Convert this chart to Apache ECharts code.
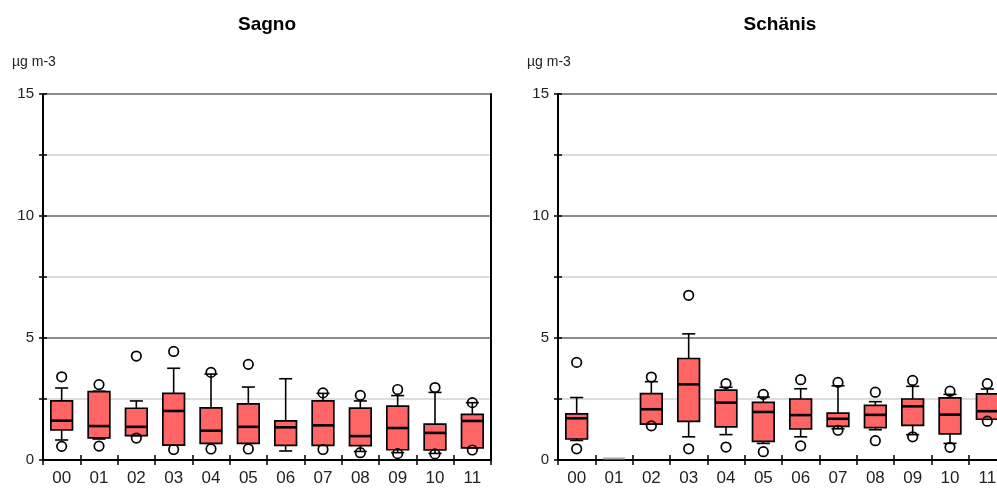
<!DOCTYPE html>
<html>
<head>
<meta charset="utf-8">
<script src="https://cdn.jsdelivr.net/npm/echarts@6/dist/echarts.min.js"></script>
<style>html,body{margin:0;padding:0;background:#fff;overflow:hidden}#c{width:1012px;height:490px}</style>
</head>
<body>
<div id="c"></div>
<script>
// ---- data ----
const categories = ['00','01','02','03','04','05','06','07','08','09','10','11'];
const yTicks = [0, 5, 10, 15];

// [lower whisker, Q1, median, Q3, upper whisker]
const sagnoBoxes = [
  [0.82, 1.23, 1.61, 2.42, 2.95],
  [0.86, 0.91, 1.39, 2.80, 2.82],
  [1.00, 1.00, 1.36, 2.12, 2.42],
  [0.61, 0.61, 2.01, 2.73, 3.76],
  [0.68, 0.68, 1.20, 2.14, 3.52],
  [0.68, 0.68, 1.36, 2.30, 2.99],
  [0.37, 0.60, 1.34, 1.60, 3.33],
  [0.60, 0.60, 1.42, 2.42, 2.73],
  [0.35, 0.59, 0.98, 2.13, 2.42],
  [0.30, 0.42, 1.31, 2.21, 2.64],
  [0.27, 0.41, 1.11, 1.47, 2.77],
  [0.50, 0.50, 1.60, 1.87, 2.35]
];
const sagnoOutHigh = [3.41, 3.09, 4.26, 4.45, 3.59, 3.92, null, 2.75, 2.65, 2.89, 2.97, 2.35];
const sagnoOutLow  = [0.56, 0.57, 0.90, 0.43, 0.45, 0.45, null, 0.43, 0.30, 0.26, 0.25, 0.41];

const schanisBoxes = [
  [0.80, 0.86, 1.71, 1.89, 2.56],
  [0.00, 0.00, 0.00, 0.00, 0.00],
  [1.47, 1.47, 2.08, 2.72, 3.21],
  [0.95, 1.58, 3.10, 4.16, 5.17],
  [1.04, 1.36, 2.35, 2.86, 2.98],
  [0.68, 0.76, 1.97, 2.36, 2.58],
  [0.95, 1.27, 1.84, 2.50, 2.92],
  [1.28, 1.38, 1.69, 1.92, 3.04],
  [1.24, 1.33, 1.85, 2.24, 2.39],
  [1.04, 1.42, 2.20, 2.50, 3.02],
  [0.68, 1.07, 1.86, 2.55, 2.69],
  [1.67, 1.67, 2.00, 2.71, 2.91]
];
const schanisOutHigh = [4.00, null, 3.40, 6.75, 3.13, 2.69, 3.29, 3.18, 2.78, 3.26, 2.82, 3.13];
const schanisOutLow  = [0.46, null, 1.40, 0.46, 0.53, 0.34, 0.58, 1.22, 0.79, 0.95, 0.52, 1.59];

const titles = ['Sagno', 'Schänis'];
const unitLabel = 'µg m-3';

// ---- rendering ----
const FONT = "'Liberation Sans', Arial, sans-serif";
const BOX_COLOR = '#ff6565';

function boxData(boxes) {
  return boxes.map((b, i) => [i, b[0], b[1], b[2], b[3], b[4]]);
}
function outlierData(hi, lo) {
  const out = [];
  hi.forEach((v, i) => { if (v != null) out.push([i, v]); });
  lo.forEach((v, i) => { if (v != null) out.push([i, v]); });
  return out;
}

function renderBox(params, api) {
  const idx = api.value(0);
  const lo = api.value(1), q1 = api.value(2), med = api.value(3), q3 = api.value(4), hi = api.value(5);
  const band = api.size([1, 0])[0];
  const bw = band * 0.58, cw = band * 0.35;
  const pLo = api.coord([idx, lo]), pQ1 = api.coord([idx, q1]), pMed = api.coord([idx, med]);
  const pQ3 = api.coord([idx, q3]), pHi = api.coord([idx, hi]);
  const x = pLo[0];
  if (hi === lo) {
    return { type: 'rect', shape: { x: x - bw / 2, y: pLo[1] - 2.5, width: bw, height: 2 },
             style: { fill: '#a8a8a8' } };
  }
  const ls = { stroke: '#000', lineWidth: 1.6 };
  const children = [];
  if (pHi[1] < pQ3[1]) {
    children.push({ type: 'line', shape: { x1: x, y1: pHi[1], x2: x, y2: pQ3[1] }, style: ls });
  }
  children.push({ type: 'line', shape: { x1: x - cw / 2, y1: pHi[1], x2: x + cw / 2, y2: pHi[1] }, style: ls });
  if (pLo[1] > pQ1[1]) {
    children.push({ type: 'line', shape: { x1: x, y1: pQ1[1], x2: x, y2: pLo[1] }, style: ls });
  }
  children.push({ type: 'line', shape: { x1: x - cw / 2, y1: pLo[1], x2: x + cw / 2, y2: pLo[1] }, style: ls });
  children.push({ type: 'rect', shape: { x: x - bw / 2, y: pQ3[1], width: bw, height: pQ1[1] - pQ3[1] },
                  style: { fill: BOX_COLOR, stroke: '#000', lineWidth: 1.7 } });
  children.push({ type: 'line', shape: { x1: x - bw / 2, y1: pMed[1], x2: x + bw / 2, y2: pMed[1] },
                  style: { stroke: '#000', lineWidth: 2.6 } });
  return { type: 'group', children };
}

const grids = [
  { left: 43, top: 94, width: 448, height: 366 },
  { left: 558, top: 94, width: 448, height: 366 }
];

const xAxes = [], yAxes = [], series = [], graphics = [];
grids.forEach((g, gi) => {
  xAxes.push({
    gridIndex: gi, type: 'category', data: categories, position: 'bottom',
    axisLine: { onZero: false, lineStyle: { color: '#000', width: 2 } },
    axisTick: { show: true, length: 5, lineStyle: { color: '#000', width: 1.5 } },
    axisLabel: { margin: 10, color: '#222', fontSize: 17, fontFamily: FONT },
    splitLine: { show: false }
  });
  xAxes.push({
    gridIndex: gi, type: 'category', data: categories, position: 'bottom',
    axisLine: { show: false, onZero: false },
    axisTick: { show: true, inside: true, length: 5, lineStyle: { color: '#000', width: 1.5 } },
    axisLabel: { show: false }, splitLine: { show: false }
  });
  yAxes.push({
    gridIndex: gi, type: 'value', position: 'left', min: yTicks[0], max: yTicks[yTicks.length - 1], interval: 2.5,
    axisLine: { show: true, lineStyle: { color: '#000', width: 2 } },
    axisTick: { show: true, length: 4, lineStyle: { color: '#000', width: 1.5 } },
    axisLabel: { margin: 9, color: '#222', fontSize: 15, fontFamily: FONT,
                 formatter: v => (yTicks.indexOf(v) >= 0 ? String(v) : '') },
    splitLine: { show: true, lineStyle: { color: ['#8c8c8c', '#dedede'], width: 2 } }
  });
  yAxes.push({
    gridIndex: gi, type: 'value', position: 'left', min: yTicks[0], max: yTicks[yTicks.length - 1], interval: 2.5,
    axisLine: { show: false },
    axisTick: { show: true, inside: true, length: 4, lineStyle: { color: '#000', width: 1.5 } },
    axisLabel: { show: false }, splitLine: { show: false }
  });
  yAxes.push({
    gridIndex: gi, type: 'value', position: 'right', min: yTicks[0], max: yTicks[yTicks.length - 1], interval: 2.5,
    axisLine: { show: true, lineStyle: { color: '#000', width: 2 } },
    axisTick: { show: false }, axisLabel: { show: false }, splitLine: { show: false }
  });
  const boxes = gi === 0 ? sagnoBoxes : schanisBoxes;
  const oh = gi === 0 ? sagnoOutHigh : schanisOutHigh;
  const ol = gi === 0 ? sagnoOutLow : schanisOutLow;
  series.push({
    type: 'custom', xAxisIndex: gi * 2, yAxisIndex: gi * 3, silent: true,
    renderItem: renderBox, data: boxData(boxes),
    encode: { x: 0, y: [1, 2, 3, 4, 5] }, z: 3
  });
  series.push({
    type: 'scatter', xAxisIndex: gi * 2, yAxisIndex: gi * 3, silent: true,
    symbol: 'circle', symbolSize: 9.5,
    itemStyle: { color: 'rgba(0,0,0,0)', borderColor: '#000', borderWidth: 1.7, opacity: 1 },
    data: outlierData(oh, ol), z: 4
  });
  graphics.push({
    type: 'text', x: g.left + g.width / 2 - (gi === 1 ? 2 : 0), y: 25,
    style: { text: titles[gi], textAlign: 'center', textVerticalAlign: 'middle',
             font: "bold 19px " + FONT, fill: '#000' }
  });
  graphics.push({
    type: 'text', x: g.left - 31, y: 62,
    style: { text: unitLabel, textAlign: 'left', textVerticalAlign: 'middle',
             font: "14px " + FONT, fill: '#222' }
  });
});

const chart = echarts.init(document.getElementById('c'), null, { renderer: 'canvas' });
chart.setOption({
  animation: false,
  backgroundColor: '#fff',
  grid: grids.map(g => Object.assign({ containLabel: false }, g)),
  xAxis: xAxes,
  yAxis: yAxes,
  series: series,
  graphic: graphics
});
</script>
</body>
</html>
